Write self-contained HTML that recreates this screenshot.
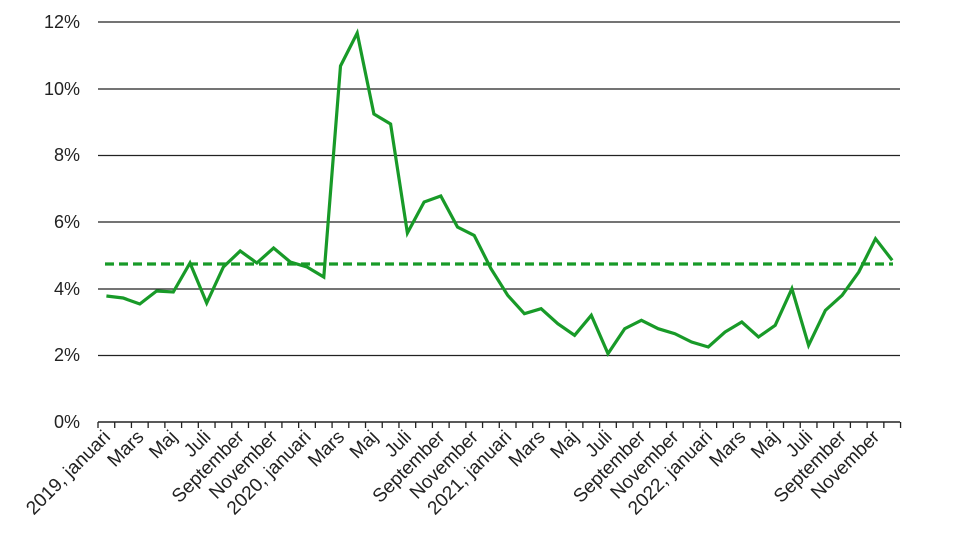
<!DOCTYPE html>
<html><head><meta charset="utf-8"><style>body{margin:0;background:#fff}svg{display:block}</style></head><body>
<svg width="960" height="540" xmlns="http://www.w3.org/2000/svg" font-family="Liberation Sans, Arial, sans-serif">
<g stroke="#222" stroke-width="1.3">
<line x1="98" x2="900" y1="22" y2="22"/><line x1="98" x2="900" y1="89" y2="89"/><line x1="98" x2="900" y1="155.5" y2="155.5"/><line x1="98" x2="900" y1="222" y2="222"/><line x1="98" x2="900" y1="289" y2="289"/><line x1="98" x2="900" y1="355.5" y2="355.5"/><line x1="98" x2="900" y1="422" y2="422" stroke-width="1.6"/>
</g>
<g font-size="18" fill="#222" text-anchor="end">
<text x="80" y="28">12%</text><text x="80" y="95">10%</text><text x="80" y="161">8%</text><text x="80" y="228">6%</text><text x="80" y="295">4%</text><text x="80" y="361">2%</text><text x="80" y="428">0%</text>
</g>
<g id="ticks" stroke="#222" stroke-width="1.3"></g>
<g id="labels" font-size="19" fill="#222" text-anchor="end"></g>
<line x1="105" x2="893" y1="264" y2="264" stroke="#189a28" stroke-width="3.2" stroke-dasharray="9,5"/>
<polyline id="ln" fill="none" stroke="#189a28" stroke-width="3.2" stroke-linejoin="miter"/>
</svg>
<script>
var d=[3.78,3.72,3.54,3.93,3.9,4.77,3.57,4.65,5.13,4.77,5.22,4.8,4.65,4.35,10.68,11.67,9.24,8.94,5.67,6.6,6.78,5.85,5.6,4.6,3.8,3.25,3.4,2.95,2.6,3.2,2.05,2.8,3.05,2.8,2.65,2.4,2.25,2.7,3.0,2.55,2.9,4.0,2.3,3.35,3.8,4.5,5.5,4.85];
var s=16.72,x0=106.4,p=[];
d.forEach(function(v,i){p.push((x0+s*i).toFixed(1)+","+(422-v*33.33).toFixed(1));});
document.getElementById("ln").setAttribute("points",p.join(" "));
var t="",l="",N=["januari","Mars","Maj","Juli","September","November"];
for(var i=0;i<=48;i++){var x=98+s*i;t+='<line x1="'+x+'" x2="'+x+'" y1="422" y2="428"/>';}
for(var i=0;i<48;i+=2){var x=x0+s*i+5,y=438;var m=(i%12)/2;var txt=m==0?(2019+i/12)+", januari":N[m];l+='<text transform="translate('+x+','+y+') rotate(-45)">'+txt+'</text>';}
document.getElementById("ticks").innerHTML=t;document.getElementById("labels").innerHTML=l;
</script>
</body></html>
